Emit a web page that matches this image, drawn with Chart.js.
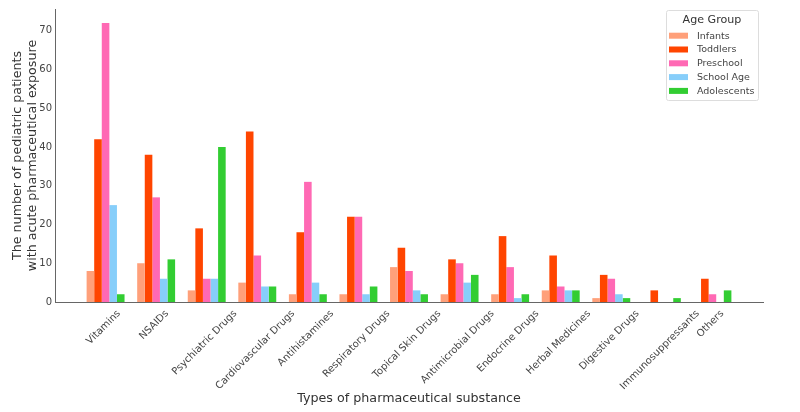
<!DOCTYPE html>
<html>
<head>
<meta charset="utf-8">
<script src="https://cdn.jsdelivr.net/npm/chart.js@4.4.1/dist/chart.umd.min.js"></script>
<style>
html,body{margin:0;padding:0;background:#fff;}
#wrap{width:800px;height:412px;}
</style>
</head>
<body>
<div id="wrap"><canvas id="c" width="800" height="412"></canvas></div>
<script>
const categories = ["Vitamins","NSAIDs","Psychiatric Drugs","Cardiovascular Drugs","Antihistamines","Respiratory Drugs","Topical Skin Drugs","Antimicrobial Drugs","Endocrine Drugs","Herbal Medicines","Digestive Drugs","Immunosuppressants","Others"];
const infants     = [8,10,3,5,2,2,9,2,2,3,1,0,0];
const toddlers    = [42,38,19,44,18,22,14,11,17,12,7,3,6];
const preschool   = [72,27,6,12,31,22,8,10,9,4,6,0,2];
const schoolAge   = [25,6,6,4,5,2,3,5,1,3,2,0,0];
const adolescents = [2,11,40,4,2,4,2,7,2,3,1,1,3];
const seriesNames = ["Infants","Toddlers","Preschool","School Age","Adolescents"];
const yTicks = [0,10,20,30,40,50,60,70];

const colors = ["#FFA07A","#FF4500","#FF69B4","#87CEFA","#32CD32"];
const allSeries = [infants,toddlers,preschool,schoolAge,adolescents];

// pad one empty slot on each side (axis margin as in the reference)
const labels = ["", ...categories, ""];
const datasets = allSeries.map((s,i)=>({
  label: seriesNames[i],
  data: [null, ...s, null],
  backgroundColor: colors[i],
  borderWidth: 0,
  categoryPercentage: 0.75,
  barPercentage: 1.0
}));

// x tick labels rotated 45deg, bounding box centred under the tick (matplotlib style)
const xLabelPlugin = {
  id: 'xLabels',
  afterDraw(chart){
    const ctx = chart.ctx, sx = chart.scales.x;
    const axisY = chart.chartArea.bottom;
    ctx.save();
    ctx.font = '10px "DejaVu Sans"';
    ctx.fillStyle = '#444';
    ctx.textAlign = 'center';
    ctx.textBaseline = 'middle';
    chart.data.labels.forEach((lab,i)=>{
      if (!lab) return;
      const x = sx.getPixelForValue(i) - 2;
      const L = ctx.measureText(lab).width;
      const H = 11.5;
      const side = (L + H) * Math.SQRT1_2;
      const cy = axisY + 6 + side/2;
      ctx.save();
      ctx.translate(x, cy);
      ctx.rotate(-Math.PI/4);
      ctx.fillText(lab, 0, 0);
      ctx.restore();
    });
    ctx.restore();
  }
};

const legendPlugin = {
  id: 'boxLegend',
  afterDraw(chart){
    const ctx = chart.ctx;
    const x0 = 666, y0 = 10, w = 92, h = 90;
    ctx.save();
    ctx.fillStyle = 'rgba(255,255,255,0.85)';
    ctx.strokeStyle = '#dddddd';
    ctx.lineWidth = 1;
    ctx.beginPath();
    if (ctx.roundRect) ctx.roundRect(x0+0.5,y0+0.5,w,h,2); else ctx.rect(x0+0.5,y0+0.5,w,h);
    ctx.fill(); ctx.stroke();
    ctx.fillStyle = '#333';
    ctx.font = '11.1px "DejaVu Sans"';
    ctx.textAlign = 'center';
    ctx.textBaseline = 'middle';
    ctx.fillText('Age Group', x0 + w/2, 20);
    ctx.font = '9.5px "DejaVu Sans"';
    ctx.textAlign = 'left';
    chart.data.datasets.forEach((ds,i)=>{
      const yy = 35.7 + i*13.8;
      ctx.fillStyle = ds.backgroundColor;
      ctx.fillRect(669, yy-3, 19, 6);
      ctx.fillStyle = '#444';
      ctx.fillText(ds.label, 697, yy+0.5);
    });
    ctx.restore();
  }
};

new Chart(document.getElementById('c'), {
  type: 'bar',
  data: { labels, datasets },
  options: {
    responsive: false,
    animation: false,
    devicePixelRatio: 1,
    layout: { padding: { top: 6, right: 37, left: 0, bottom: 0 } },
    plugins: { legend: { display: false }, tooltip: { enabled: false } },
    scales: {
      x: {
        type: 'category',
        offset: false,
        grid: { display: false, drawTicks: false },
        border: { display: true, color: '#666', width: 1 },
        ticks: { display: false, autoSkip: false },
        title: { display: true, text: 'Types of pharmaceutical substance', color: '#333',
                 font: { family: 'DejaVu Sans', size: 12.7 }, padding: { top: 2, bottom: 6 } },
        afterFit(scale){ scale.height = 110; }
      },
      y: {
        min: 0, max: 75.6,
        grid: { display: false, drawTicks: false },
        border: { display: true, color: '#666', width: 1 },
        afterBuildTicks(scale){ scale.ticks = yTicks.map(v=>({value:v})); },
        ticks: { color: '#444', font: { family: 'DejaVu Sans', size: 10 }, padding: 3 },
        title: { display: true, text: ['The number of pediatric patients','with acute pharmaceutical exposure'],
                 color: '#333', font: { family: 'DejaVu Sans', size: 12.7, lineHeight: 1.2 }, padding: { top: 10, bottom: 2 } },
        afterFit(scale){ scale.width = 55; }
      }
    }
  },
  plugins: [xLabelPlugin, legendPlugin]
});
</script>
</body>
</html>
